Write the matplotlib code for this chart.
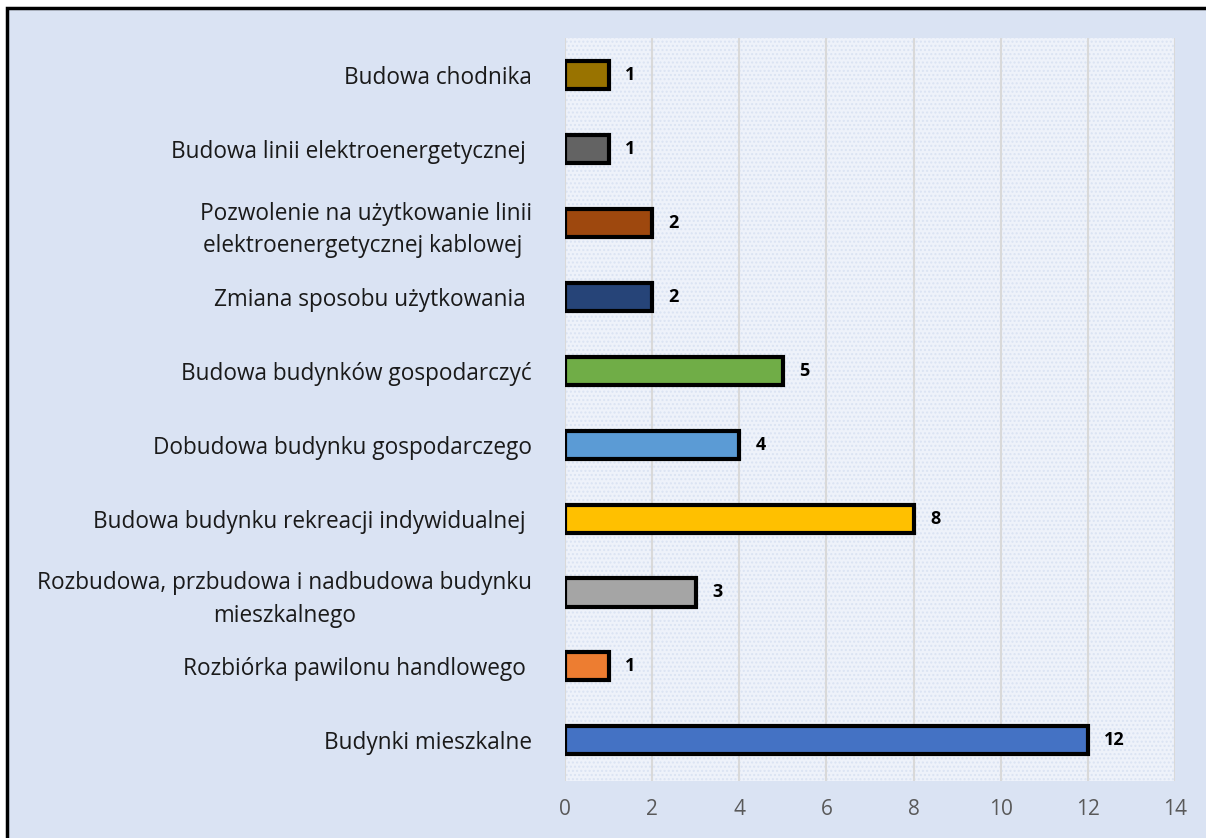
import matplotlib.pyplot as plt
from matplotlib.patches import Rectangle

plt.rcParams['font.family'] = ['Open Sans', 'DejaVu Sans']

# categories from bottom to top
kategorie = [
    'Budynki mieszkalne',
    'Rozbiórka pawilonu handlowego ',
    'Rozbudowa, przbudowa i nadbudowa budynku\nmieszkalnego',
    'Budowa budynku rekreacji indywidualnej ',
    'Dobudowa budynku gospodarczego',
    'Budowa budynków gospodarczyć',
    'Zmiana sposobu użytkowania ',
    'Pozwolenie na użytkowanie linii\nelektroenergetycznej kablowej ',
    'Budowa linii elektroenergetycznej ',
    'Budowa chodnika',
]
liczba = [12, 1, 3, 8, 4, 5, 2, 2, 1, 1]
kolory = ['#4472c4', '#ed7d31', '#a5a5a5', '#ffc000', '#5b9bd5',
          '#70ad47', '#264478', '#9e480e', '#636363', '#997300']

fig = plt.figure(figsize=(12.06, 8.38), dpi=100, facecolor='white')
# light blue chart area with black frame
fig.patches.append(Rectangle((7 / 1206, -0.1), 1.2, 1.1 - 8 / 838,
                             transform=fig.transFigure, facecolor='#dae3f3',
                             edgecolor='black', linewidth=2.5, zorder=-5))

ax = fig.add_axes([565 / 1206, 1 - 781 / 838, 610 / 1206, 743 / 838])
ax.set_zorder(2)
ax.set_facecolor('#eef2fa')
ax.add_patch(Rectangle((0, 0), 1, 1, transform=ax.transAxes, facecolor='none',
                       edgecolor='#dae3f3', hatch='....', linewidth=0, zorder=0))

y = range(len(kategorie))
ax.barh(y, liczba, height=0.38, color=kolory, edgecolor='black',
        linewidth=3, zorder=3)
for i, v in enumerate(liczba):
    ax.text(v + 0.38, i, str(v), va='center', ha='left', fontsize=13,
            fontweight='bold', color='black', zorder=4)

ax.set_xlim(0, 14)
ax.set_ylim(-0.55, 9.5)
ax.set_xticks(range(0, 15, 2))
ax.set_yticks(list(y))
ax.set_yticklabels(kategorie, fontsize=16.3, color='#1a1a1a',
                   multialignment='center', linespacing=1.45)
ax.tick_params(axis='x', colors='#595959', labelsize=15, length=0, pad=13)
ax.tick_params(axis='y', length=0, pad=24)
ax.grid(axis='x', color='#d9d9d9', linewidth=1.5, zorder=1)
ax.set_axisbelow(True)
for s in ax.spines.values():
    s.set_visible(False)

fig.savefig('out.png', dpi=100, facecolor=fig.get_facecolor())
